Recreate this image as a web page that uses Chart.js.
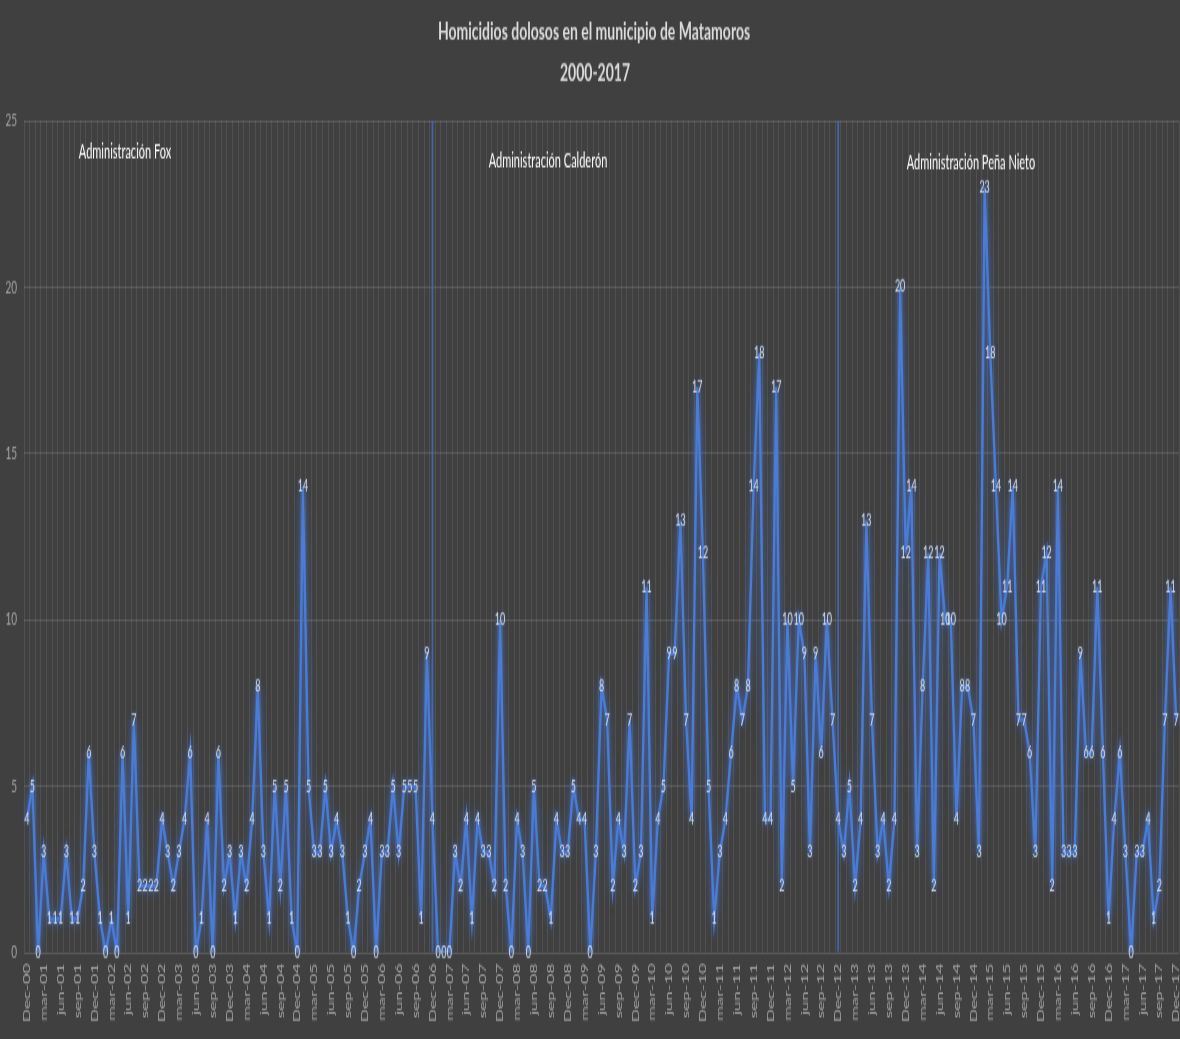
<!DOCTYPE html>
<html>
<head>
<meta charset="utf-8">
<title>Homicidios dolosos en el municipio de Matamoros 2000-2017</title>
<script src="https://cdn.jsdelivr.net/npm/chart.js@4/dist/chart.umd.min.js"></script>
<style>
  html, body { margin: 0; padding: 0; background: #404040; overflow: hidden; }
  #wrap { width: 1180px; height: 1039px; overflow: hidden; position: relative; }
  /* the chart is drawn on a short canvas and stretched vertically to full height */
  #c { display: block; transform-origin: 0 0; transform: scaleY(1.8007); }
</style>
</head>
<body>
<div id="wrap"><canvas id="c" width="1180" height="577"></canvas></div>
<script>
// Monthly intentional homicides, Dec-2000 .. Dec-2017
const foxMonths = [          // Dec-00 .. Nov-06
  4, 5, 0, 3, 1, 1, 1, 3, 1, 1, 2, 6,
  3, 1, 0, 1, 0, 6, 1, 7, 2, 2, 2, 2,
  4, 3, 2, 3, 4, 6, 0, 1, 4, 0, 6, 2,
  3, 1, 3, 2, 4, 8, 3, 1, 5, 2, 5, 1,
  0, 14, 5, 3, 3, 5, 3, 4, 3, 1, 0, 2,
  3, 4, 0, 3, 3, 5, 3, 5, 5, 5, 1, 9
];
const calderonMonths = [     // Dec-06 .. Nov-12
  4, 0, 0, 0, 3, 2, 4, 1, 4, 3, 3, 2,
  10, 2, 0, 4, 3, 0, 5, 2, 2, 1, 4, 3,
  3, 5, 4, 4, 0, 3, 8, 7, 2, 4, 3, 7,
  2, 3, 11, 1, 4, 5, 9, 9, 13, 7, 4, 17,
  12, 5, 1, 3, 4, 6, 8, 7, 8, 14, 18, 4,
  4, 17, 2, 10, 5, 10, 9, 3, 9, 6, 10, 7
];
const penaNietoMonths = [    // Dec-12 .. Dec-17
  4, 3, 5, 2, 4, 13, 7, 3, 4, 2, 4, 20,
  12, 14, 3, 8, 12, 2, 12, 10, 10, 4, 8, 8,
  7, 3, 23, 18, 14, 10, 11, 14, 7, 7, 6, 3,
  11, 12, 2, 14, 3, 3, 3, 9, 6, 6, 11, 6,
  1, 4, 6, 3, 0, 3, 3, 4, 1, 2, 7, 11,
  7
];
const homicides = foxMonths.concat(calderonMonths, penaNietoMonths);

// Category labels: month abbreviations as they appear on the axis
const monthNames = ['jan', 'feb', 'mar', 'abr', 'may', 'jun', 'jul', 'ago', 'sep', 'oct', 'nov', 'Dec'];
const months = [];
for (let y = 2000; y <= 2017; y++) {
  for (let m = 0; m < 12; m++) {
    if (y === 2000 && m < 11) continue;
    months.push(monthNames[m] + '-' + String(y).slice(2));
  }
}

// Start of each administration (marked by a vertical line) and its caption
const termStarts = ['Dec-06', 'Dec-12'];
const termNames = ['Administración Fox', 'Administración Calderón', 'Administración Peña Nieto'];
const titleLines = ['Homicidios dolosos en el municipio de Matamoros', '2000-2017'];

const yTicks = [0, 5, 10, 15, 20, 25];

const FONT = "Lato, 'Open Sans', 'DejaVu Sans', sans-serif";
const termMarker = months.map(m => termStarts.includes(m) ? yTicks[yTicks.length - 1] : null);

// caption placement inside the plot area (canvas units)
const termCaptionX = [125, 548, 971];
const termCaptionY = [84.5, 89.5, 90.5];

const decorations = {
  id: 'decorations',
  beforeDatasetDraw(chart, args) {
    if (args.index === 1) {
      const ctx = chart.ctx;
      ctx.save();
      ctx.shadowColor = 'rgba(70,120,215,0.95)';
      ctx.shadowBlur = 6;
    }
  },
  afterDatasetDraw(chart, args) {
    if (args.index === 1) chart.ctx.restore();
  },
  afterDatasetsDraw(chart) {
    const ctx = chart.ctx;
    const meta = chart.getDatasetMeta(1);
    ctx.save();
    ctx.font = '9px ' + FONT;
    ctx.fillStyle = '#dedede';
    ctx.textAlign = 'center';
    ctx.textBaseline = 'middle';
    ctx.shadowColor = 'rgba(70,120,215,0.6)';
    ctx.shadowBlur = 3;
    meta.data.forEach((pt, i) => {
      ctx.fillText(String(homicides[i]), pt.x, pt.y);
    });
    ctx.restore();

    ctx.save();
    ctx.textAlign = 'center';
    ctx.textBaseline = 'middle';
    ctx.fillStyle = '#ffffff';
    ctx.font = '11px ' + FONT;
    termNames.forEach((t, i) => ctx.fillText(t, termCaptionX[i], termCaptionY[i]));
    ctx.fillStyle = '#dcdcdc';
    ctx.font = 'bold 14px ' + FONT;
    ctx.fillText(titleLines[0], 594, 17.5);
    ctx.fillText(titleLines[1], 595, 40);
    ctx.restore();
  }
};

new Chart(document.getElementById('c'), {
  data: {
    labels: months,
    datasets: [
      {
        type: 'bar',
        data: termMarker,
        backgroundColor: 'rgba(68,114,196,0.75)',
        barThickness: 1.2,
        order: 2
      },
      {
        type: 'line',
        data: homicides,
        borderColor: '#4a7bd6',
        borderWidth: 2.4,
        pointRadius: 0,
        tension: 0,
        fill: false,
        order: 1
      }
    ]
  },
  options: {
    responsive: false,
    animation: false,
    devicePixelRatio: 1,
    layout: { padding: { top: 67, right: 1, bottom: 0, left: 0 } },
    plugins: {
      legend: { display: false },
      tooltip: { enabled: false },
      title: { display: false }
    },
    scales: {
      x: {
        type: 'category',
        offset: true,
        grid: { display: true, offset: true, color: 'rgba(255,255,255,0.085)', lineWidth: 1, drawTicks: false },
        border: { display: false },
        ticks: {
          autoSkip: false,
          minRotation: 90,
          maxRotation: 90,
          padding: 6,
          color: '#a6a6a6',
          font: { family: FONT, size: 10 },
          callback: function (val, idx) { return idx % 3 === 0 ? this.getLabelForValue(val) : ''; }
        },
        afterFit(scale) {
          scale.height = 48;
          scale.paddingLeft = 0;
          scale.paddingRight = 0;
        }
      },
      y: {
        min: 0,
        max: 25,
        grid: { color: 'rgba(255,255,255,0.13)', lineWidth: 1, drawTicks: false },
        border: { display: false },
        ticks: {
          stepSize: 5,
          padding: 7,
          color: '#a6a6a6',
          font: { family: FONT, size: 10 },
          callback: v => yTicks.includes(v) ? String(v) : ''
        },
        afterFit(scale) { scale.width = 24; }
      }
    }
  },
  plugins: [decorations]
});
</script>
</body>
</html>
